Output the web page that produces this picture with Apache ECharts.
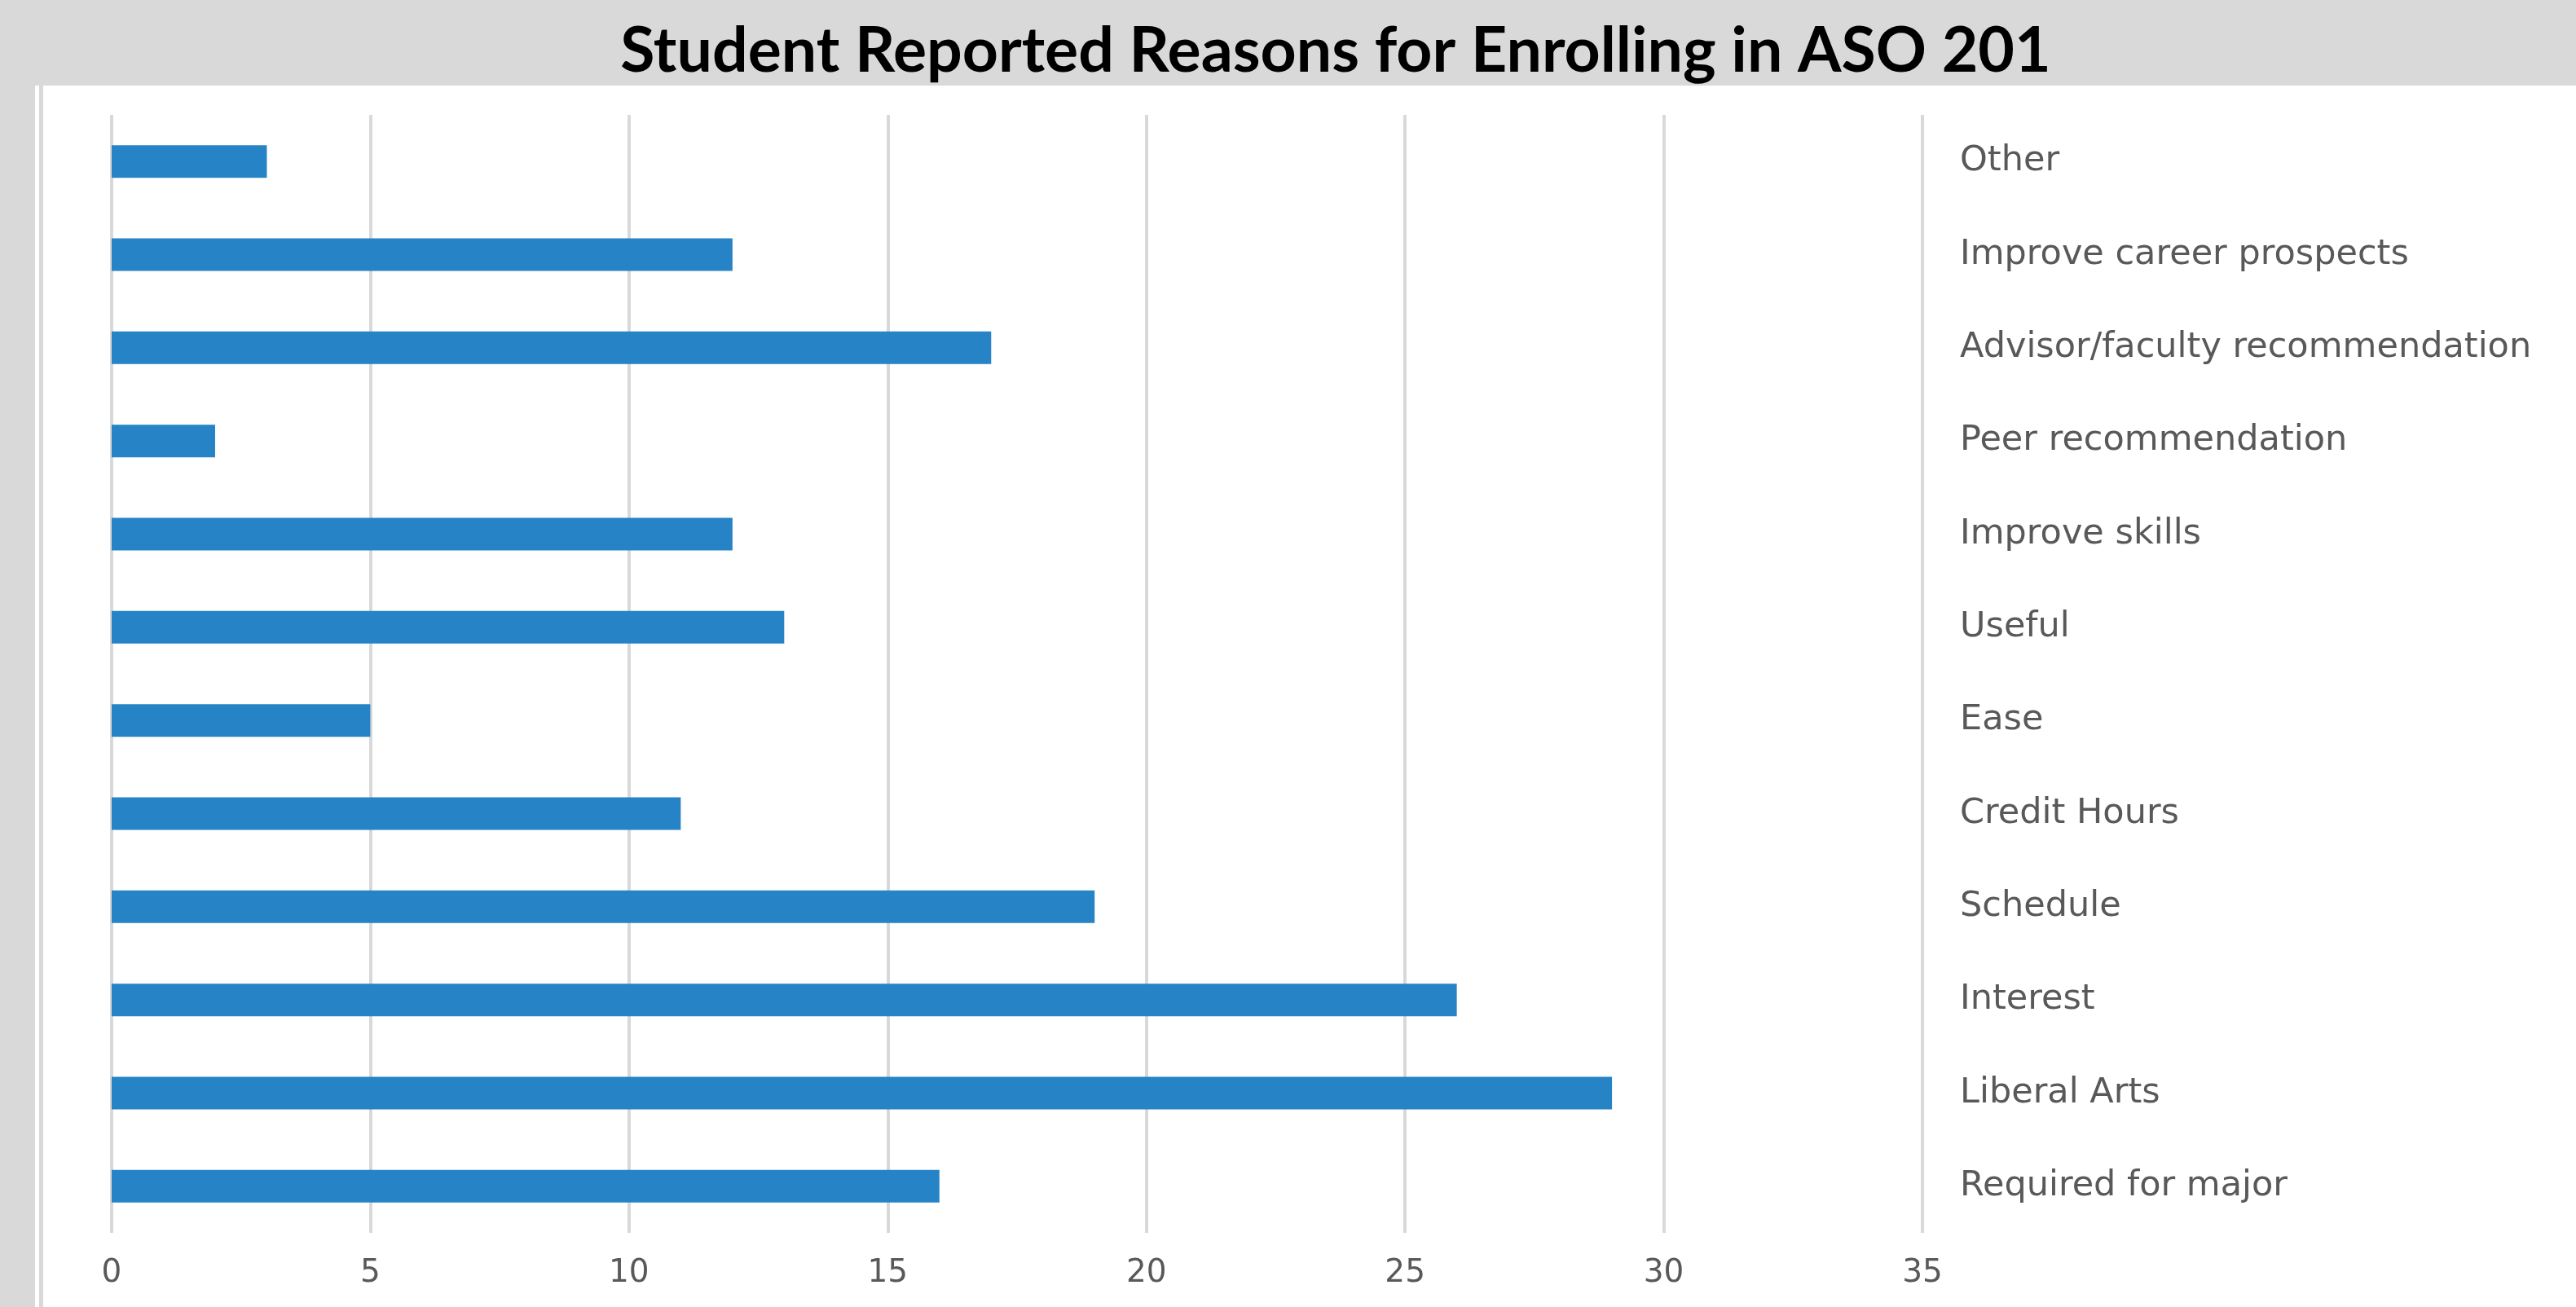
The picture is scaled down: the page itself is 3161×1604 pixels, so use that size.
<!DOCTYPE html>
<html>
<head>
<meta charset="utf-8">
<script src="https://cdn.jsdelivr.net/npm/echarts@6/dist/echarts.min.js"></script>
<style>
html,body{margin:0;padding:0;background:#d9d9d9;}
#c{width:3161px;height:1604px;}
</style>
</head>
<body>
<div id="c"></div>
<script>
const categories = ["Other","Improve career prospects","Advisor/faculty recommendation","Peer recommendation","Improve skills","Useful","Ease","Credit Hours","Schedule","Interest","Liberal Arts","Required for major"];
const values = [3,12,17,2,12,13,5,11,19,26,29,16];
const titleText = "Student Reported Reasons for Enrolling in ASO 201";
const xMin = 0, xMax = 35, xStep = 5;

const chart = echarts.init(document.getElementById('c'), null, {renderer:'canvas'});
chart.setOption({
  backgroundColor: '#d9d9d9',
  animation: false,
  graphic: [
    {type:'rect', z:-10, shape:{x:43,y:105,width:5,height:1499}, style:{fill:'#ffffff'}},
    {type:'rect', z:-10, shape:{x:53,y:105,width:3108,height:1499}, style:{fill:'#ffffff'}}
  ],
  title: {
    text: titleText,
    left: 1634,
    top: 20,
    textAlign: 'center',
    textStyle: {fontFamily:'Lato', fontWeight:'bold', fontSize:77, color:'#000000'}
  },
  grid: {left:137, right:802, top:141, bottom:91, containLabel:false},
  xAxis: {
    type:'value', min:xMin, max:xMax, interval:xStep,
    axisLine:{show:false}, axisTick:{show:false},
    splitLine:{show:true, lineStyle:{color:'#d9d9d9', width:4}},
    axisLabel:{fontFamily:'DejaVu Sans', fontSize:39, color:'#595959', margin:30}
  },
  yAxis: {
    type:'category', data:categories, inverse:true, position:'right',
    axisLine:{show:false}, axisTick:{show:false},
    axisLabel:{fontFamily:'DejaVu Sans', fontSize:43, color:'#595959', margin:46, align:'left'}
  },
  series: [{
    type:'bar', data:values, barWidth:'35%',
    itemStyle:{color:'#2683c6'}
  }]
});
</script>
</body>
</html>
